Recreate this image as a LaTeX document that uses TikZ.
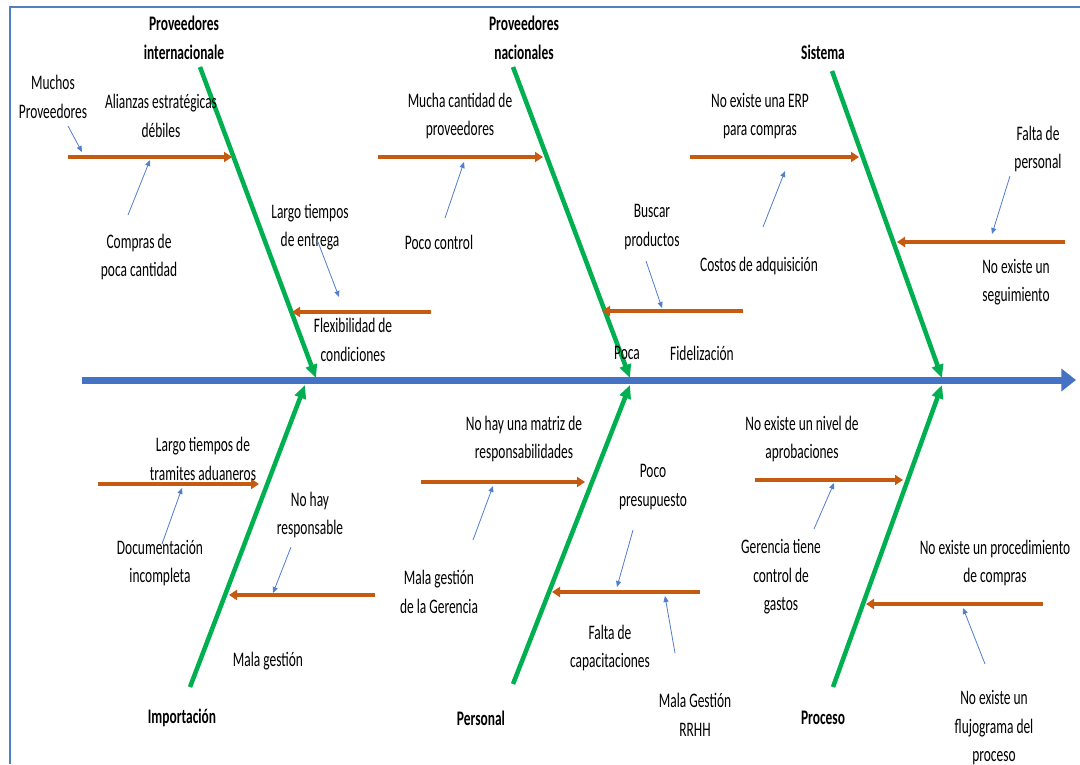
\documentclass[tikz,border=0pt]{standalone}
\usepackage{fontspec}
\setmainfont{Carlito}[FakeStretch=0.65]
\usetikzlibrary{arrows.meta}
\definecolor{framecol}{RGB}{79,129,189}
\definecolor{spinecol}{RGB}{68,114,196}
\definecolor{bonecol}{RGB}{0,176,80}
\definecolor{causecol}{RGB}{197,90,17}
\definecolor{hintcol}{RGB}{80,125,205}
\begin{document}
\begin{tikzpicture}[x=0.75pt,y=-0.75pt,
  lbl/.style={font=\fontsize{15.5}{21.4}\selectfont, align=center, inner sep=0pt},
  head/.style={font=\fontsize{15.5}{21.4}\selectfont\bfseries, align=center, inner sep=0pt},
  spine/.style={draw=spinecol, line width=5.25pt, -{Triangle[length=11pt,width=16.5pt]}},
  bone/.style={draw=bonecol, line width=3.4pt, -{Triangle[length=10pt,width=8.5pt]}},
  cause/.style={draw=causecol, line width=2.6pt, -{Triangle[length=6pt,width=7.5pt]}},
  hint/.style={draw=hintcol, line width=0.6pt, -{Triangle[length=4.5pt,width=3.8pt]}}]
\useasboundingbox (0,0) rectangle (1080,764);

% frame
\coordinate (fl) at (10,764);
\coordinate (fc) at (10,7);
\coordinate (fr) at (1080,7);
\draw[framecol, line width=1.8pt] (fl) -- (fc) -- (fr);

% spine
\coordinate (sp0) at (82,380);
\coordinate (sp1) at (1076,380);
\draw[spine] (sp0) -- (sp1);

% main bones
\coordinate (t1s) at (200,67);  \coordinate (t1e) at (316,378);
\coordinate (t2s) at (513,67);  \coordinate (t2e) at (630,378);
\coordinate (t3s) at (832,71);  \coordinate (t3e) at (942,378);
\coordinate (b1s) at (190,687); \coordinate (b1e) at (305,385);
\coordinate (b2s) at (513,684); \coordinate (b2e) at (630,385);
\coordinate (b3s) at (833,687); \coordinate (b3e) at (942,385);
\draw[bone] (t1s) -- (t1e);
\draw[bone] (t2s) -- (t2e);
\draw[bone] (t3s) -- (t3e);
\draw[bone] (b1s) -- (b1e);
\draw[bone] (b2s) -- (b2e);
\draw[bone] (b3s) -- (b3e);

% category titles
\node[head] (hProvInt) at (184,38) {Proveedores\\internacionale};
\node[head] (hProvNac) at (524,38) {Proveedores\\nacionales};
\node[head] (hSist) at (823,52) {Sistema};
\node[head] (hImp) at (182,718) {Importación};
\node[head] (hPers) at (481,718) {Personal};
\node[head] (hProc) at (823,718) {Proceso};

% cause lines
\coordinate (c1a) at (68,157);   \coordinate (c1b) at (232,157);
\coordinate (c2a) at (431,312);  \coordinate (c2b) at (292,312);
\coordinate (c3a) at (378,157);  \coordinate (c3b) at (543,157);
\coordinate (c4a) at (743,311);  \coordinate (c4b) at (602,311);
\coordinate (c5a) at (690,157);  \coordinate (c5b) at (859,157);
\coordinate (c6a) at (1065,242); \coordinate (c6b) at (897,242);
\coordinate (c7a) at (98,484);   \coordinate (c7b) at (259,484);
\coordinate (c8a) at (375,595);  \coordinate (c8b) at (229,595);
\coordinate (c9a) at (421,482);  \coordinate (c9b) at (585,482);
\coordinate (c10a) at (700,592); \coordinate (c10b) at (552,592);
\coordinate (c11a) at (755,480); \coordinate (c11b) at (903,480);
\coordinate (c12a) at (1043,604);\coordinate (c12b) at (866,604);
\foreach \i in {1,...,12}{\draw[cause] (c\i a) -- (c\i b);}

% cause texts
\node[lbl] (tMuchos) at (53,97) {Muchos\\Proveedores};
\node[lbl] (tAlianzas) at (161,116) {Alianzas estratégicas\\débiles};
\node[lbl] (tCompras) at (139,257) {Compras de\\poca cantidad};
\node[lbl] (tLargoEnt) at (310,227) {Largo tiempos\\de entrega};
\node[lbl] (tFlex) at (353,340) {Flexibilidad de\\condiciones};
\node[lbl] (tMucha) at (460,116) {Mucha cantidad de\\proveedores};
\node[lbl] (tPocoCtrl) at (439,242) {Poco control};
\node[lbl] (tBuscar) at (652,227) {Buscar\\productos};
\node[lbl] (tPoca) at (627,353) {Poca};
\node[lbl] (tFidel) at (702,353) {Fidelización};
\node[lbl] (tERP) at (760,116) {No existe una ERP\\para compras};
\node[lbl] (tCostos) at (759,266) {Costos de adquisición};
\node[lbl] (tFaltaPers) at (1038,149) {Falta de\\personal};
\node[lbl] (tSeguim) at (1016,282) {No existe un\\seguimiento};
\node[lbl] (tAduana) at (203,459) {Largo tiempos de\\tramites aduaneros};
\node[lbl] (tDocum) at (160,563) {Documentación\\incompleta};
\node[lbl] (tNoHay) at (310,515) {No hay\\responsable};
\node[lbl] (tMalaG) at (268,661) {Mala gestión};
\node[lbl] (tMatriz) at (524,439) {No hay una matriz de\\responsabilidades};
\node[lbl] (tPresup) at (653,487) {Poco\\presupuesto};
\node[lbl] (tGerencia) at (439,592) {Mala gestión\\de la Gerencia};
\node[lbl] (tCapac) at (610,648) {Falta de\\capacitaciones};
\node[lbl] (tRRHH) at (695,715) {Mala Gestión\\RRHH};
\node[lbl] (tNivel) at (802,439) {No existe un nivel de\\aprobaciones};
\node[lbl] (tGastos) at (781,577) {Gerencia tiene\\control de\\gastos};
\node[lbl] (tProced) at (995,563) {No existe un procedimiento\\de compras};
\node[lbl] (tFlujo) at (994,728) {No existe un\\flujograma del\\proceso};

% pointer arrows
\coordinate (h1a) at (68,126);   \coordinate (h1b) at (82,152);
\coordinate (h2a) at (128,215);  \coordinate (h2b) at (150,160);
\coordinate (h3a) at (318,242);  \coordinate (h3b) at (339,297);
\coordinate (h4a) at (445,218);  \coordinate (h4b) at (464,162);
\coordinate (h5a) at (646,261);  \coordinate (h5b) at (662,308);
\coordinate (h6a) at (763,227);  \coordinate (h6b) at (785,171);
\coordinate (h7a) at (1010,176); \coordinate (h7b) at (992,234);
\coordinate (h8a) at (162,544);  \coordinate (h8b) at (182,488);
\coordinate (h9a) at (291,547);  \coordinate (h9b) at (273,593);
\coordinate (h10a) at (473,540); \coordinate (h10b) at (493,486);
\coordinate (h11a) at (633,530); \coordinate (h11b) at (617,587);
\coordinate (h12a) at (675,653); \coordinate (h12b) at (665,596);
\coordinate (h13a) at (814,529); \coordinate (h13b) at (834,483);
\coordinate (h14a) at (985,664); \coordinate (h14b) at (963,608);
\foreach \i in {1,...,14}{\draw[hint] (h\i a) -- (h\i b);}
\end{tikzpicture}
\end{document}
